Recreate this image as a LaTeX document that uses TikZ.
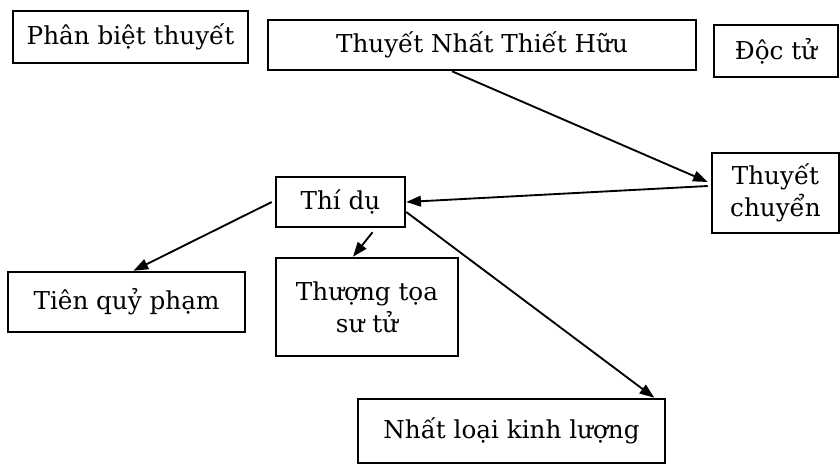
\documentclass[tikz,border=0pt]{standalone}
\usepackage{fontspec}
\setmainfont{DejaVu Serif}
\usetikzlibrary{arrows.meta,calc}

\tikzset{every picture/.style={line width=0.75pt}}

\begin{document}
\begin{tikzpicture}[x=0.75pt,y=0.75pt,yscale=-1,xscale=1,
  hop/.style={draw,line width=1.9pt,inner sep=0.75pt,align=center,font=\fontsize{18.5}{24}\selectfont},
  mui/.style={line width=1.4pt,-{Triangle[length=11pt,width=8pt]}}]
\useasboundingbox (0,0) rectangle (840,467);

% Text Node
\node [hop,minimum width=176.25pt,minimum height=39pt] (phanbiet) at (130.5,37) {Phân biệt thuyết};
% Text Node
\node [hop,minimum width=321pt,minimum height=37.5pt] (nhat) at (482,45) {Thuyết Nhất Thiết Hữu};
% Text Node
\node [hop,minimum width=93pt,minimum height=39pt] (doctu) at (776,51) {Độc tử};
% Text Node
\node [hop,minimum width=95.25pt,minimum height=60pt] (chuyen) at (775.5,193) {Thuyết\\chuyển};
% Text Node
\node [hop,minimum width=96.75pt,minimum height=37.5pt] (thidu) at (340.5,202) {Thí dụ};
% Text Node
\node [hop,minimum width=177.75pt,minimum height=45pt] (tien) at (126.5,302) {Tiên quỷ phạm};
% Text Node
\node [hop,minimum width=136.5pt,minimum height=73.5pt] (thuong) at (367,307) {Thượng tọa\\sư tử};
% Text Node
\node [hop,minimum width=230.25pt,minimum height=48pt] (nhatloai) at (511.5,431) {Nhất loại kinh lượng};

%Straight Lines
\draw [mui] ($(nhat.south)+(-30,0)$) -- ($(chuyen.west)+(-3,-11)$);
%Straight Lines
\draw [mui] ($(chuyen.west)+(-3,-7)$) -- (thidu.east);
%Straight Lines
\draw [mui] ($(thidu.west)+(-3,0)$) -- ($(tien.north)+(7,0)$);
%Straight Lines
\draw [mui] ($(thidu.south)+(32,4)$) -- ($(thuong.north)+(-14,0)$);
%Straight Lines
\draw [mui] ($(thidu.east)+(0,10)$) -- ($(nhatloai.north east)+(-12,0)$);

\end{tikzpicture}
\end{document}
